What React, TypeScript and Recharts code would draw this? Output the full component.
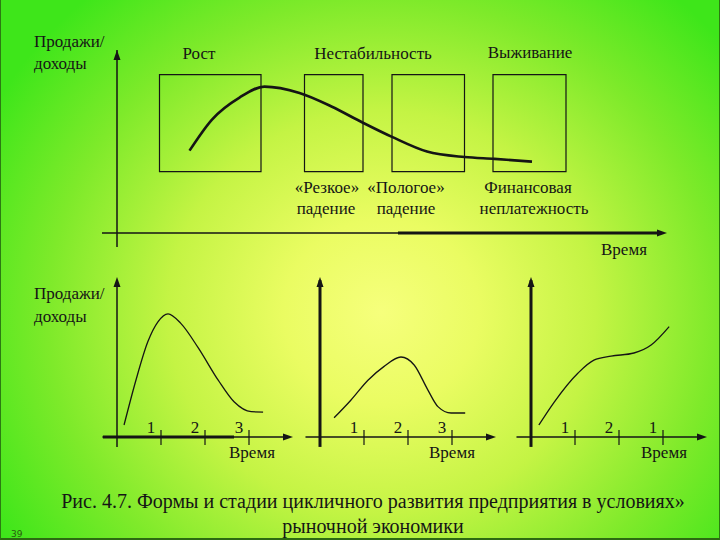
import { LineChart, Line, XAxis, YAxis, ReferenceLine, ReferenceArea, ReferenceDot } from "recharts"

const serif = "\"Liberation Serif\", Tinos, \"DejaVu Serif\", \"Noto Serif\", \"Times New Roman\", serif"
const ink = "#151515"

// верхняя схема: общая кривая цикла
const cycleTime = [1.45, 1.9, 2.45, 2.95, 3.65, 4.3, 4.9, 5.5, 6.2, 6.95, 7.55, 8.3]
const cycleSales = [4.5, 6.2, 7.4, 8.0, 7.65, 6.9, 6.05, 5.25, 4.45, 4.15, 4.05, 3.9]
const stageStart = [0.85, 3.75, 5.5, 7.52]
const stageEnd = [2.88, 4.92, 6.95, 8.98]
const stageLow = 3.35
const stageHigh = 8.65
const stageTitles = ["Рост", "Нестабильность", "Выживание"]
const stageNotes = ["«Резкое»", "«Пологое»", "Финансовая", "падение", "падение", "неплатежность"]

// нижние схемы: три формы развития
const shapeATime = [0.16, 0.43, 0.7, 0.93, 1.16, 1.45, 1.84, 2.3, 2.66, 3.05, 3.32]
const shapeASales = [0.75, 3.55, 5.95, 7.2, 7.7, 7.1, 5.6, 3.55, 2.2, 1.58, 1.56]
const shapeBTime = [0.32, 0.7, 1.09, 1.45, 1.84, 2.14, 2.45, 2.68, 2.98, 3.3]
const shapeBSales = [1.2, 2.3, 3.55, 4.4, 5.0, 4.5, 2.95, 1.9, 1.5, 1.5]
const shapeCTime = [0.18, 0.52, 1.07, 1.43, 1.82, 2.34, 2.73, 3.14]
const shapeCSales = [0.75, 2.15, 4.0, 4.8, 5.05, 5.25, 5.75, 6.9]
const stageTicks = [1, 2, 3]
const tickLabelsA = ["1", "2", "3"]
const tickLabelsC = ["1", "2", "1"]

const zip = (t: number[], v: number[]) => t.map((x, i) => ({ t: x, v: v[i] }))

const arrowRight = (p: any) => (
  <polygon points={`${p.cx},${p.cy} ${p.cx - 10},${p.cy - 3.5} ${p.cx - 10},${p.cy + 3.5}`} fill={ink} />
)
const arrowUp = (p: any) => (
  <polygon points={`${p.cx},${p.cy} ${p.cx - 3.5},${p.cy + 10} ${p.cx + 3.5},${p.cy + 10}`} fill={ink} />
)

function TopChart() {
  return (
    <div style={{ position: "absolute", left: 96, top: 30 }}>
      <LineChart width={590} height={223} data={zip(cycleTime, cycleSales)} margin={{ top: 20, right: 20, bottom: 20, left: 20 }}>
        <XAxis type="number" dataKey="t" domain={[0, 11]} hide />
        <YAxis type="number" domain={[0, 10]} hide />
        {stageStart.map((s, i) => (
          <ReferenceArea key={i} x1={s} x2={stageEnd[i]} y1={stageLow} y2={stageHigh}
            fill="none" stroke={ink} strokeWidth={1.2} ifOverflow="visible" />
        ))}
        <ReferenceLine segment={[{ x: 0, y: -0.77 }, { x: 0, y: 10 }]} stroke={ink} strokeWidth={1.5} ifOverflow="visible" />
        <ReferenceLine segment={[{ x: -0.3, y: 0 }, { x: 5.62, y: 0 }]} stroke={ink} strokeWidth={1.5} ifOverflow="visible" />
        <ReferenceLine segment={[{ x: 5.62, y: 0 }, { x: 10.8, y: 0 }]} stroke={ink} strokeWidth={3} ifOverflow="visible" />
        <ReferenceDot x={11} y={0} ifOverflow="visible" shape={arrowRight} />
        <ReferenceDot x={0} y={10} ifOverflow="visible" shape={arrowUp} />
        <Line type="monotone" dataKey="v" stroke={ink} strokeWidth={2.6} dot={false} isAnimationActive={false} />
      </LineChart>
    </div>
  )
}

interface PanelProps {
  data: { t: number; v: number }[]
  labels: string[]
  left: number
  yAxisWidth: number
  boldUntil?: number
}

function ShapePanel({ data, labels, left, yAxisWidth, boldUntil }: PanelProps) {
  const tick = (p: any) => (
    <g>
      <line x1={p.x} x2={p.x} y1={p.y - 7} y2={p.y + 8} stroke={ink} strokeWidth={1.2} />
      <text x={p.x - 10} y={p.y - 4} textAnchor="middle" style={{ fontFamily: serif, fontSize: 17 }} fill={ink}>
        {labels[p.index]}
      </text>
    </g>
  )
  return (
    <div style={{ position: "absolute", left: left - 20, top: 257 }}>
      <LineChart width={216} height={200} data={data} margin={{ top: 20, right: 20, bottom: 0, left: 20 }}>
        <XAxis type="number" dataKey="t" domain={[0, 4]} ticks={stageTicks} interval={0}
          axisLine={false} tickLine={false} tickSize={0} tickMargin={0} height={20} tick={tick} />
        <YAxis type="number" domain={[0, 10]} hide />
        <ReferenceLine segment={[{ x: 0, y: -0.62 }, { x: 0, y: 9.8 }]} stroke={ink} strokeWidth={yAxisWidth} ifOverflow="visible" />
        {boldUntil ? (
          <ReferenceLine segment={[{ x: -0.32, y: 0 }, { x: boldUntil, y: 0 }]} stroke={ink} strokeWidth={3} ifOverflow="visible" />
        ) : null}
        <ReferenceLine segment={[{ x: -0.33, y: 0 }, { x: 3.9, y: 0 }]} stroke={ink} strokeWidth={1.6} ifOverflow="visible" />
        <ReferenceDot x={4} y={0} ifOverflow="visible" shape={arrowRight} />
        <ReferenceDot x={0} y={10} ifOverflow="visible" shape={arrowUp} />
        <Line type="monotone" dataKey="v" stroke={ink} strokeWidth={1.3} dot={false} isAnimationActive={false} />
      </LineChart>
    </div>
  )
}

function Txt({ x, y, children, anchor = "middle", size = 17 }: any) {
  return (
    <text x={x} y={y} textAnchor={anchor} style={{ fontFamily: serif, fontSize: size }} fill={ink}>
      {children}
    </text>
  )
}

export default function App() {
  return (
    <div
      style={{
        position: "absolute",
        left: 0,
        top: 0,
        width: 720,
        height: 540,
        overflow: "hidden",
        boxSizing: "border-box",
        fontFamily: serif,
        borderLeft: "1px solid #2c7a12",
        borderRight: "1px solid #2c7a12",
        borderBottom: "2px solid #2c6a12",
        background:
          "radial-gradient(ellipse 62% 78% at 53% 58%, #f6ff7c 0%, #eafc62 22%, #c4f444 48%, #7eea2a 75%, #3ee61a 100%)",
      }}
    >
      <svg width={720} height={540} style={{ position: "absolute", left: 0, top: 0 }}>
        <Txt x={33} y={47} anchor="start">Продажи/</Txt>
        <Txt x={33} y={69} anchor="start">доходы</Txt>
        <Txt x={198} y={59}>{stageTitles[0]}</Txt>
        <Txt x={372} y={59}>{stageTitles[1]}</Txt>
        <Txt x={529} y={58}>{stageTitles[2]}</Txt>
        <Txt x={326} y={193}>{stageNotes[0]}</Txt>
        <Txt x={405} y={193}>{stageNotes[1]}</Txt>
        <Txt x={527} y={193}>{stageNotes[2]}</Txt>
        <Txt x={325} y={214}>{stageNotes[3]}</Txt>
        <Txt x={405} y={214}>{stageNotes[4]}</Txt>
        <Txt x={533} y={214}>{stageNotes[5]}</Txt>
        <Txt x={600} y={255} anchor="start">Время</Txt>

        <Txt x={33} y={299} anchor="start">Продажи/</Txt>
        <Txt x={33} y={322} anchor="start">доходы</Txt>
        <Txt x={228} y={458} anchor="start">Время</Txt>
        <Txt x={428} y={458} anchor="start">Время</Txt>
        <Txt x={640} y={458} anchor="start">Время</Txt>

        <Txt x={372} y={508} size={20}>Рис. 4.7. Формы и стадии цикличного развития предприятия в условиях»</Txt>
        <Txt x={372} y={533} size={20}>рыночной экономики</Txt>
        <text x={10} y={537} style={{ fontFamily: "\"DejaVu Sans\", sans-serif", fontSize: 9 }} fill="#2a5a10">39</text>
      </svg>
      <TopChart />
      <ShapePanel data={zip(shapeATime, shapeASales)} labels={tickLabelsA} left={116} yAxisWidth={1.5} boldUntil={2.66} />
      <ShapePanel data={zip(shapeBTime, shapeBSales)} labels={tickLabelsA} left={319} yAxisWidth={3} />
      <ShapePanel data={zip(shapeCTime, shapeCSales)} labels={tickLabelsC} left={530} yAxisWidth={3} />
    </div>
  )
}
